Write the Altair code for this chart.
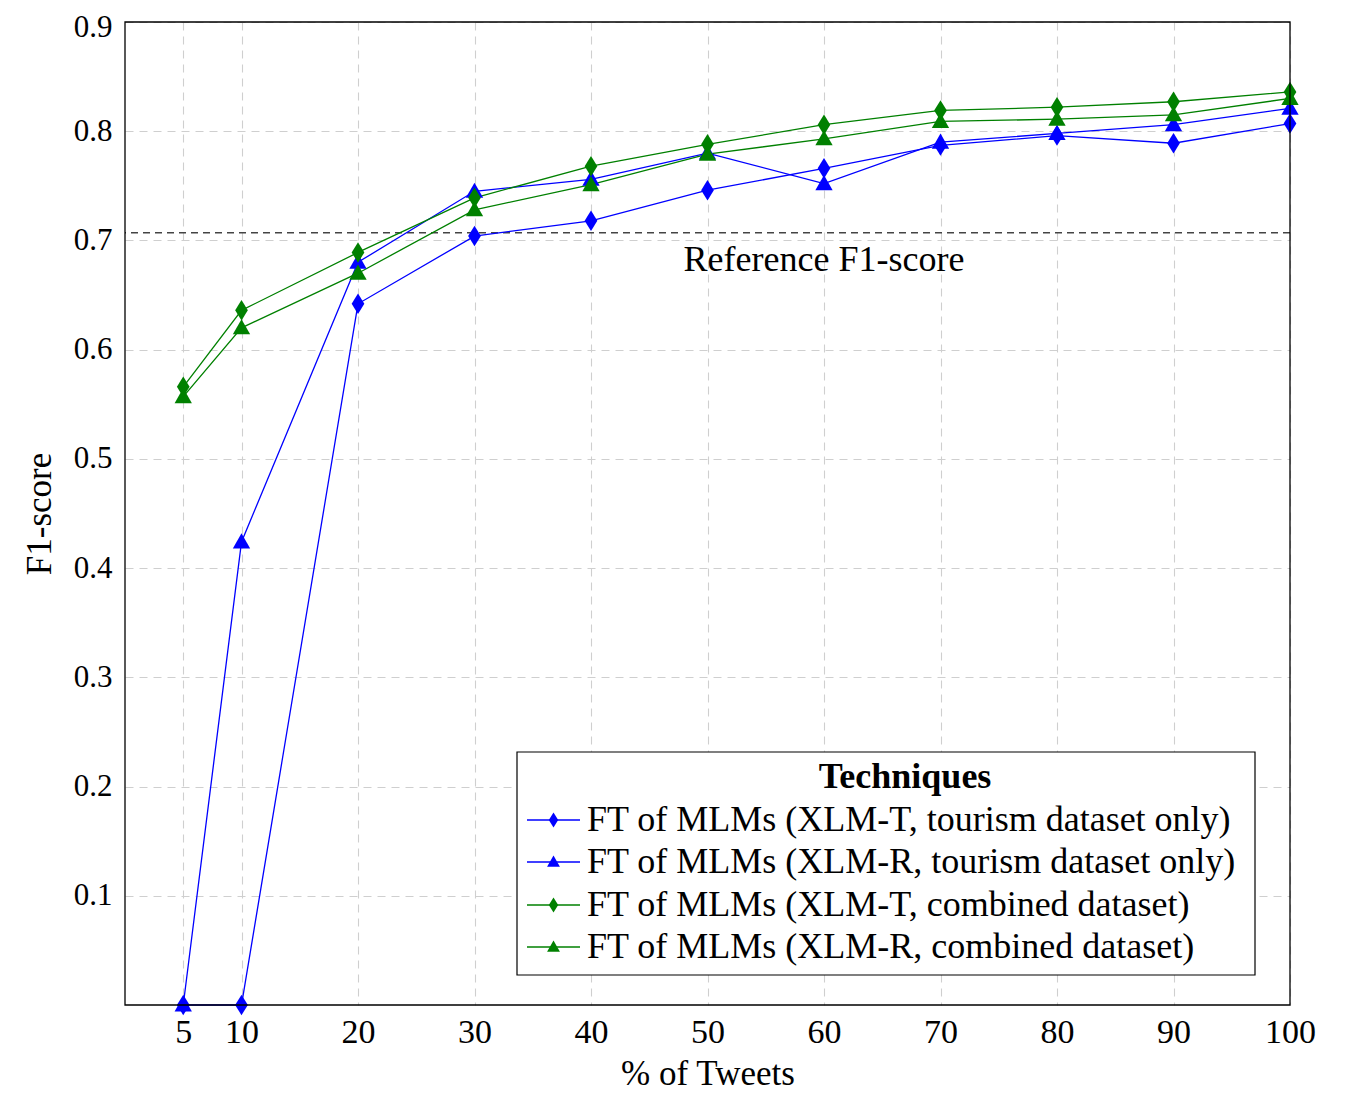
import altair as alt
import pandas as pd

# ---- data ----
pct = [5, 10, 20, 30, 40, 50, 60, 70, 80, 90, 100]
series_names = [
    "FT of MLMs (XLM-T, tourism dataset only)",
    "FT of MLMs (XLM-R, tourism dataset only)",
    "FT of MLMs (XLM-T, combined dataset)",
    "FT of MLMs (XLM-R, combined dataset)",
]
xlmt_tourism = [0.0, 0.0, 0.642, 0.704, 0.718, 0.746, 0.766, 0.787, 0.796, 0.789, 0.807]
xlmr_tourism = [0.0, 0.424, 0.680, 0.745, 0.756, 0.780, 0.752, 0.790, 0.798, 0.806, 0.821]
xlmt_combined = [0.566, 0.636, 0.689, 0.739, 0.768, 0.788, 0.806, 0.819, 0.822, 0.827, 0.836]
xlmr_combined = [0.557, 0.620, 0.670, 0.728, 0.751, 0.779, 0.793, 0.809, 0.811, 0.815, 0.830]
reference_f1 = 0.707
x_ticks = [5, 10, 20, 30, 40, 50, 60, 70, 80, 90, 100]
y_ticks = [0.1, 0.2, 0.3, 0.4, 0.5, 0.6, 0.7, 0.8, 0.9]

# ---- styles ----
FONT = "Liberation Serif"
BLUE = "#0000ff"
GREEN = "#008000"
DIAMOND = "M0,-1L0.62,0L0,1L-0.62,0Z"
TRIANGLE = "M0,-1L1,0.75L-1,0.75Z"
colors = [BLUE, BLUE, GREEN, GREEN]
shapes = [DIAMOND, TRIANGLE, DIAMOND, TRIANGLE]
sizes = [420, 300, 420, 300]

W, H = 1165, 983
TOP = 14

rows = []
for name, vals in zip(series_names, [xlmt_tourism, xlmr_tourism, xlmt_combined, xlmr_combined]):
    for p, v in zip(pct, vals):
        rows.append({"series": name, "pct": p, "f1": v})
df = pd.DataFrame(rows)

xscale = alt.Scale(domain=[0, 100], nice=False, zero=False)
yscale = alt.Scale(domain=[0, 0.9], nice=False, zero=False)
cscale = alt.Scale(domain=series_names, range=colors)

x_enc = alt.X("pct:Q", scale=xscale,
              axis=alt.Axis(values=x_ticks, title="% of Tweets", format="d"))
y_enc = alt.Y("f1:Q", scale=yscale,
              axis=alt.Axis(values=y_ticks, title="F1-score", format=".1f", labelFontSize=31,
                            labelOffset={"condition": {"test": "datum.value > 0.85", "value": 5},
                                         "value": 0}))

base = alt.Chart(df)
lines = base.mark_line(strokeWidth=1.3).encode(
    x=x_enc, y=y_enc,
    color=alt.Color("series:N", scale=cscale, legend=None),
    detail="series:N",
)
points_parts = []
for name, shp, sz, col in zip(series_names, shapes, sizes, colors):
    points_parts.append(
        alt.Chart(df[df.series == name]).mark_point(
            filled=True, opacity=1, shape=shp, size=sz, color=col, strokeWidth=0
        ).encode(x="pct:Q", y="f1:Q")
    )

ref_df = pd.DataFrame({"f1": [reference_f1], "label": ["Reference F1-score"], "pct": [60]})
ref_rule = alt.Chart(ref_df).mark_rule(
    color="#444444", strokeDash=[7, 5], strokeWidth=1.4
).encode(y="f1:Q")
ref_text = alt.Chart(ref_df).mark_text(
    font=FONT, fontSize=36, dy=27, baseline="middle", align="center", color="black"
).encode(x="pct:Q", y="f1:Q", text="label:N")

# ---- frame on top ----
frame = alt.Chart(pd.DataFrame({"a": [0]})).mark_rect(
    fill="transparent", stroke="black", strokeWidth=1.3
).encode(x=alt.value(0), x2=alt.value(W), y=alt.value(0), y2=alt.value(H))

# ---- manual legend (pixel positions in the plot area) ----
LX0, LX1, LY0, LY1 = 392, 1130, 730, 953
box = alt.Chart(pd.DataFrame({"a": [0]})).mark_rect(
    fill="white", stroke="black", strokeWidth=1.2
).encode(x=alt.value(LX0), x2=alt.value(LX1), y=alt.value(LY0), y2=alt.value(LY1))
leg_title = alt.Chart(pd.DataFrame({"t": ["Techniques"]})).mark_text(
    font=FONT, fontSize=36, fontWeight="bold", align="center", baseline="middle", color="black"
).encode(x=alt.value(780), y=alt.value(755), text="t:N")

leg_layers = [box, leg_title]
row_y = [798, 840, 883, 925]
for name, col, shp, sz, ry in zip(series_names, colors, shapes, sizes, row_y):
    one = alt.Chart(pd.DataFrame({"series": [name]}))
    leg_layers.append(one.mark_rule(color=col, strokeWidth=1.3).encode(
        x=alt.value(402), x2=alt.value(455), y=alt.value(ry)))
    leg_layers.append(one.mark_point(filled=True, opacity=1, shape=shp, size=sz * 0.55,
                                     color=col, strokeWidth=0).encode(
        x=alt.value(428.5), y=alt.value(ry)))
    leg_layers.append(one.mark_text(font=FONT, fontSize=36, align="left", baseline="middle",
                                    color="black").encode(
        x=alt.value(462), y=alt.value(ry), text="series:N"))

chart = alt.layer(
    ref_rule, lines, *points_parts, ref_text, *leg_layers, frame
).properties(
    width=W, height=H,
    autosize=alt.AutoSizeParams(type="none"),
    padding={"left": 117, "top": TOP, "right": 47, "bottom": 88},
).configure_view(
    strokeWidth=0
).configure_axis(
    grid=True, gridColor="#cfcfcf", gridDash=[8, 6], gridWidth=1.1,
    domain=False, ticks=False, labelFlush=False, labelOverlap=False,
    labelFont=FONT, labelFontSize=34, labelColor="black",
    titleFont=FONT, titleFontSize=35, titleColor="black", titleFontWeight="normal",
).configure_axisX(
    labelPadding=10, titlePadding=7,
).configure_axisY(
    labelPadding=13, titlePadding=16,
)

chart.save("out.html", embed_options={"renderer": "svg", "actions": False})
